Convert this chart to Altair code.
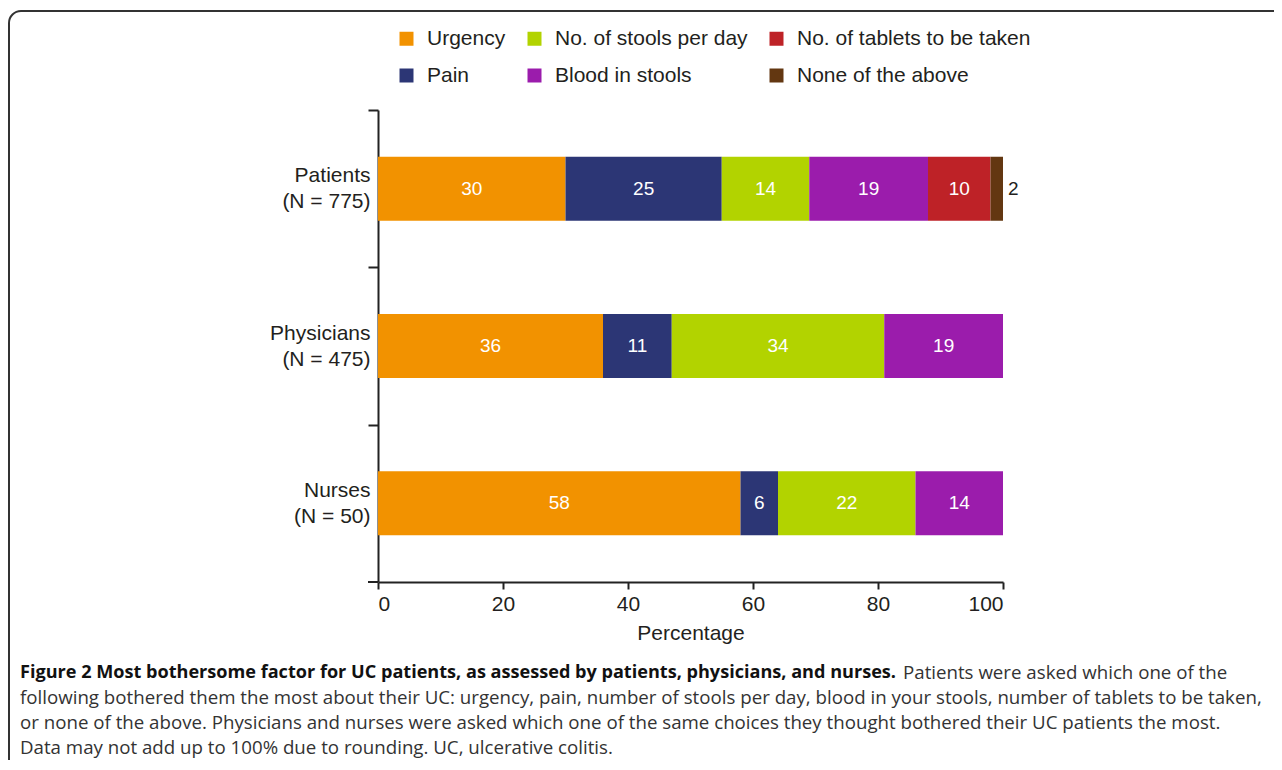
import altair as alt
import pandas as pd

categories = ["Urgency", "Pain", "No. of stools per day", "Blood in stools",
              "No. of tablets to be taken", "None of the above"]
colors = ["#F29200", "#2C3675", "#B2D300", "#9B1CAC", "#BE2227", "#633711"]
groups = ["Patients|(N = 775)", "Physicians|(N = 475)", "Nurses|(N = 50)"]
patients = [30, 25, 14, 19, 10, 2]
physicians = [36, 11, 34, 19, 0, 0]
nurses = [58, 6, 22, 14, 0, 0]

caption_bold = "Figure 2 Most bothersome factor for UC patients, as assessed by patients, physicians, and nurses."
caption_lines = [
    "Patients were asked which one of the",
    "following bothered them the most about their UC: urgency, pain, number of stools per day, blood in your stools, number of tablets to be taken,",
    "or none of the above. Physicians and nurses were asked which one of the same choices they thought bothered their UC patients the most.",
    "Data may not add up to 100% due to rounding. UC, ulcerative colitis.",
]

rows = []
for g, vals in zip(groups, [patients, physicians, nurses]):
    for i, (c, v) in enumerate(zip(categories, vals)):
        if v > 0:
            rows.append({"group": g, "cat": c, "value": v, "order": i})
df = pd.DataFrame(rows)

FONT = "Liberation Sans"
TXT = "#231F20"
W, H = 625, 472
STEP = H / 3

base = alt.Chart(df).transform_stack(
    stack="value", groupby=["group"], as_=["start", "end"],
    sort=[alt.SortField("order", order="ascending")]
).transform_calculate(mid="(datum.start + datum.end) / 2")

yenc = alt.Y("group:N", sort=groups, title=None,
             scale=alt.Scale(paddingInner=0.59, paddingOuter=0.295),
             axis=alt.Axis(labelExpr="split(datum.value, '|')", labelFontSize=21,
                           labelFont=FONT, labelColor=TXT, labelAlign="right",
                           labelPadding=-2, labelLineHeight=26,
                           tickOffset=-STEP / 2, labelOffset=STEP / 2 - 13,
                           tickSize=10, tickWidth=2, tickColor="#222",
                           domainColor="#222", domainWidth=2))

bars = base.mark_bar(size=64).encode(
    x=alt.X("start:Q", scale=alt.Scale(domain=[0, 100]),
            axis=alt.Axis(values=[0, 20, 40, 60, 80, 100], title="Percentage",
                          titleFontSize=21, titleFont=FONT, titleFontWeight="normal",
                          titleColor=TXT, titlePadding=8,
                          labelFontSize=21, labelFont=FONT, labelColor=TXT, labelPadding=4,
                          tickSize=7, tickWidth=2, tickColor="#222", domainColor="#222",
                          domainWidth=2, grid=False)),
    x2="end:Q",
    y=yenc,
    color=alt.Color("cat:N", scale=alt.Scale(domain=categories, range=colors),
                    legend=alt.Legend(title=None, orient="none", legendX=18, legendY=-82,
                                      columns=3, symbolType="square", symbolSize=196,
                                      symbolStrokeWidth=0, labelFontSize=21, labelFont=FONT,
                                      labelColor=TXT, labelOffset=10, columnPadding=18,
                                      rowPadding=15, labelLimit=400)),
)

inner = base.transform_filter("datum.cat != 'None of the above'").mark_text(
    color="white", fontSize=19, font=FONT).encode(
    x="mid:Q", y=alt.Y("group:N", sort=groups), text="value:Q")

outer = base.transform_filter("datum.cat == 'None of the above'").mark_text(
    color=TXT, fontSize=19, font=FONT, align="left", dx=5).encode(
    x="end:Q", y=alt.Y("group:N", sort=groups), text="value:Q")

bottom_tick = alt.Chart(pd.DataFrame({"a": [0]})).mark_rule(
    color="#222", strokeWidth=2).encode(
    x=alt.value(-10), x2=alt.value(0), y=alt.value(H))

border = alt.Chart(pd.DataFrame({"a": [0]})).mark_rect(
    fillOpacity=0, stroke="#333", strokeWidth=2, cornerRadius=12).encode(
    x=alt.value(-369), x2=alt.value(920), y=alt.value(-99), y2=alt.value(680))

cap_layers = [
    alt.Chart(pd.DataFrame({"t": [caption_bold]})).mark_text(
        font="Open Sans", fontSize=18.1, fontWeight="bold", color="#111", align="left",
        baseline="middle").encode(text="t:N", x=alt.value(-358), y=alt.value(563))
]
cap_x = [903 - 378, -358, -358, -358]
cap_y = [563, 588, 613, 638]
for line, cx, cy in zip(caption_lines, cap_x, cap_y):
    cap_layers.append(
        alt.Chart(pd.DataFrame({"t": [line]})).mark_text(
            font="Open Sans", fontSize=18.7, color="#333", align="left",
            baseline="middle").encode(text="t:N", x=alt.value(cx), y=alt.value(cy)))

chart = alt.layer(border, bars, inner, outer, bottom_tick, *cap_layers).properties(
    width=W, height=H,
    autosize=alt.AutoSizeParams(type="none"),
    padding={"left": 370, "top": 102, "right": 271, "bottom": 178},
).configure_view(stroke=None)

chart.save("out.html", embed_options={"renderer": "svg", "actions": False})
